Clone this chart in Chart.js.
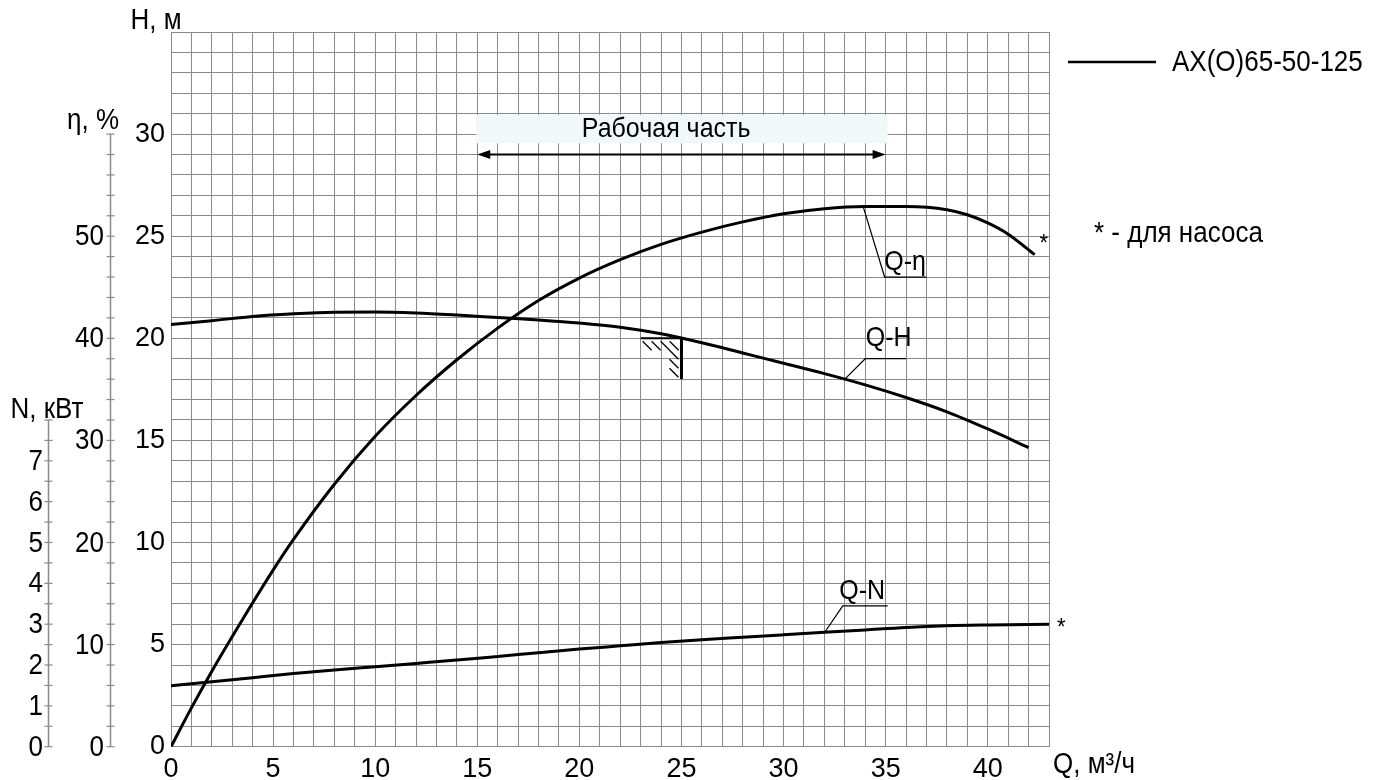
<!DOCTYPE html>
<html><head><meta charset="utf-8">
<script src="https://cdn.jsdelivr.net/npm/chart.js@4.4.1/dist/chart.umd.min.js"></script>
<style>html,body{margin:0;padding:0;background:#fff;}#wrap{width:1388px;height:780px;}</style>
</head><body><div id="wrap"><canvas id="c" width="1388" height="780"></canvas></div>
<script>
// ---- data ----
const qHead = [0,2,4,6,8,10,12,14,16,18,20,22,24,26,28,30,32,34,36,38,40,42];
const head  = [20.68,20.86,21.07,21.2,21.28,21.29,21.24,21.14,21.02,20.9,20.75,20.54,20.22,19.78,19.28,18.78,18.27,17.72,17.1,16.4,15.56,14.65];
const qEta  = [0,1,2,3,4,5,6,8,10,12,14,16,18,20,22,24,26,28,30,32,34,36,38,39,40,41,42.3];
const eta   = [0,3.8,7.4,10.8,14.1,17.3,20.3,25.7,30.4,34.4,37.9,41.0,43.7,45.9,47.7,49.2,50.4,51.4,52.2,52.7,52.9,52.9,52.6,52.1,51.3,50.2,48.2];
const qPow  = [0,2,4,6,8,10,12,14,16,18,20,22,24,26,28,30,32,34,36,38,40,43];
const power = [1.49,1.59,1.69,1.79,1.88,1.96,2.04,2.12,2.21,2.3,2.39,2.47,2.55,2.62,2.68,2.74,2.8,2.86,2.92,2.96,2.98,3.0];
const qTickLabels   = [0,5,10,15,20,25,30,35,40];
const hTickLabels   = [0,5,10,15,20,25,30];
const etaTickLabels = [0,10,20,30,40,50];
const nTickLabels   = [0,1,2,3,4,5,6,7];
const workRange = [15,35];       // Q, м³/ч
const workArrowH = 29;           // H level of arrow
const workBoxH = [29.55,30.95];
const dutyPoint = [25,20];       // hatched mark
const dutyMark = [23,18];
const seriesName = 'АХ(О)65-50-125';

const FONT = '"Liberation Sans", Arial, Helvetica, sans-serif';
Chart.defaults.font.family = FONT;
const GRID = '#8a8a8a';

function pts(xs, ys){ return xs.map((v,i)=>({x:v,y:ys[i]})); }

// text slightly stretched vertically like the reference lettering
function txt(ctx, s, x, y, size, align){
  ctx.save();
  ctx.font = size+'px '+FONT; ctx.textAlign = align||'center'; ctx.textBaseline='middle';
  ctx.translate(x, y); ctx.scale(1, 1.12);
  ctx.fillText(s, 0, 0);
  ctx.restore();
}

const decor = {
  id:'decor',
  beforeDatasetsDraw(chart){
    const {ctx, scales:{x,y}} = chart;
    const x0 = x.getPixelForValue(workRange[0]), x1 = x.getPixelForValue(workRange[1]);
    const yt = y.getPixelForValue(workBoxH[1]), yb = y.getPixelForValue(workBoxH[0]);
    ctx.save();
    ctx.fillStyle = '#f0f8fa';
    ctx.fillRect(x0-1, yt, x1-x0+3, yb-yt);
    ctx.restore();
  },
  afterDatasetsDraw(chart){
    const {ctx, scales:{x,y,eta:se,pw:sn}} = chart;
    const X = v=>x.getPixelForValue(v), Y = v=>y.getPixelForValue(v);
    ctx.save();
    ctx.fillStyle = '#000'; ctx.strokeStyle = '#000';
    // working-range text & arrow
    txt(ctx, 'Рабочая часть', X(24.25), Y(30.25), 25);
    const ax0 = X(workRange[0]), ax1 = X(workRange[1]), ay = Y(workArrowH);
    ctx.lineWidth = 2;
    ctx.beginPath(); ctx.moveTo(ax0+4, ay); ctx.lineTo(ax1-4, ay); ctx.stroke();
    ctx.beginPath(); ctx.moveTo(ax0, ay); ctx.lineTo(ax0+13, ay-4.5); ctx.lineTo(ax0+13, ay+4.5); ctx.closePath(); ctx.fill();
    ctx.beginPath(); ctx.moveTo(ax1, ay); ctx.lineTo(ax1-13, ay-4.5); ctx.lineTo(ax1-13, ay+4.5); ctx.closePath(); ctx.fill();
    // hatched duty mark
    const px = X(dutyPoint[0]), py = Y(dutyPoint[1]), pxl = X(dutyMark[0]), pyb = Y(dutyMark[1]);
    ctx.lineWidth = 1.3;
    for (let hx = pxl+2; hx < px-6; hx += 9){ ctx.beginPath(); ctx.moveTo(hx, py+3); ctx.lineTo(hx+9, py+12); ctx.stroke(); }
    for (let hy = py+12; hy < pyb-4; hy += 9){ ctx.beginPath(); ctx.moveTo(px-12, hy); ctx.lineTo(px-3, hy+9); ctx.stroke(); }
    ctx.lineWidth = 2;
    ctx.beginPath(); ctx.moveTo(pxl, py); ctx.lineTo(px, py); ctx.stroke();
    ctx.lineWidth = 3;
    ctx.beginPath(); ctx.moveTo(px, py); ctx.lineTo(px, pyb); ctx.stroke();
    // curve labels with leaders
    ctx.lineWidth = 1.2;
    const leader = (a,b,c,s,tx,ty)=>{
      ctx.beginPath(); ctx.moveTo(X(a[0]),Y(a[1])); ctx.lineTo(X(b[0]),Y(b[1])); ctx.lineTo(X(c),Y(b[1])); ctx.stroke();
      txt(ctx, s, X(tx), Y(ty), 25);
    };
    leader([33.9,26.45],[34.95,23.0],37.0,'Q-η',35.95,23.7);
    leader([33.0,18.0],[34.0,19.0],36.0,'Q-H',35.15,20.0);
    leader([32.0,5.58],[32.9,6.9],35.1,'Q-N',33.85,7.6);
    // stars
    txt(ctx, '*', X(42.75), Y(24.6), 22);
    txt(ctx, '*', X(43.6), Y(5.8), 22);
    // legend
    ctx.lineWidth = 2.5;
    ctx.beginPath(); ctx.moveTo(1068, 62); ctx.lineTo(1156, 62); ctx.stroke();
    txt(ctx, seriesName, 1172, 63, 26, 'left');
    txt(ctx, '* - для насоса', 1094, 234, 26, 'left');
    // axis titles
    txt(ctx, 'H, м', 156, 21, 26);
    txt(ctx, 'η, %', 93, 121, 26);
    txt(ctx, 'N, кВт', 47, 410, 26);
    txt(ctx, 'Q, м³/ч', 1053, 765, 26, 'left');
    // extra axes: efficiency and power
    const drawAxis = (scale, xa, max, step, labels, labX)=>{
      ctx.strokeStyle = GRID; ctx.lineWidth = 1.5;
      ctx.beginPath(); ctx.moveTo(xa, scale.getPixelForValue(0)); ctx.lineTo(xa, scale.getPixelForValue(max)); ctx.stroke();
      ctx.lineWidth = 1.2;
      for (let v = 0; v <= max+1e-9; v += step){
        const yy = scale.getPixelForValue(v);
        ctx.beginPath(); ctx.moveTo(xa-4, yy); ctx.lineTo(xa+4, yy); ctx.stroke();
      }
      ctx.fillStyle='#000';
      labels.forEach(v=>txt(ctx, String(v), labX, scale.getPixelForValue(v)+1, 26, 'right'));
    };
    drawAxis(se, 110.5, 60, 2, etaTickLabels, 104);
    drawAxis(sn, 48.5, 8, 0.5, nTickLabels, 43);
    ctx.restore();
  }
};

new Chart(document.getElementById('c'), {
  type:'scatter',
  data:{ datasets:[
    {label:'Q-H', data:pts(qHead,head), yAxisID:'y'},
    {label:'Q-η', data:pts(qEta,eta), yAxisID:'eta'},
    {label:'Q-N', data:pts(qPow,power), yAxisID:'pw'}
  ].map(d=>Object.assign(d,{showLine:true,borderColor:'#000',borderWidth:3,pointRadius:0,cubicInterpolationMode:'monotone',fill:false}))},
  options:{
    responsive:false, animation:false, devicePixelRatio:1,
    layout:{padding:{left:0,top:32,right:339,bottom:0}},
    plugins:{legend:{display:false}, tooltip:{enabled:false}},
    scales:{
      x:{type:'linear', min:0, max:43,
         afterFit(s){ s.height = 33.3; },
         afterBuildTicks(s){ s.ticks = Array.from({length:44},(_,i)=>({value:i})); },
         ticks:{autoSkip:false, maxRotation:0, padding:7, color:'#000', font:{size:27},
                callback:v=>qTickLabels.includes(v)?String(v):''},
         grid:{color:GRID, lineWidth:1, drawTicks:false}, border:{color:GRID, width:1}},
      y:{type:'linear', min:0, max:35, position:'left',
         afterFit(s){ s.width = 171; },
         afterBuildTicks(s){ s.ticks = Array.from({length:36},(_,i)=>({value:i})); },
         ticks:{autoSkip:false, padding:6, color:'#000', font:{size:27},
                callback:v=>hTickLabels.includes(v)?String(v):''},
         grid:{color:GRID, lineWidth:1, drawTicks:false}, border:{color:GRID, width:1}},
      eta:{type:'linear', min:0, max:70, display:false},
      pw:{type:'linear', min:0, max:17.5, display:false}
    }
  },
  plugins:[decor]
});
</script></body></html>
